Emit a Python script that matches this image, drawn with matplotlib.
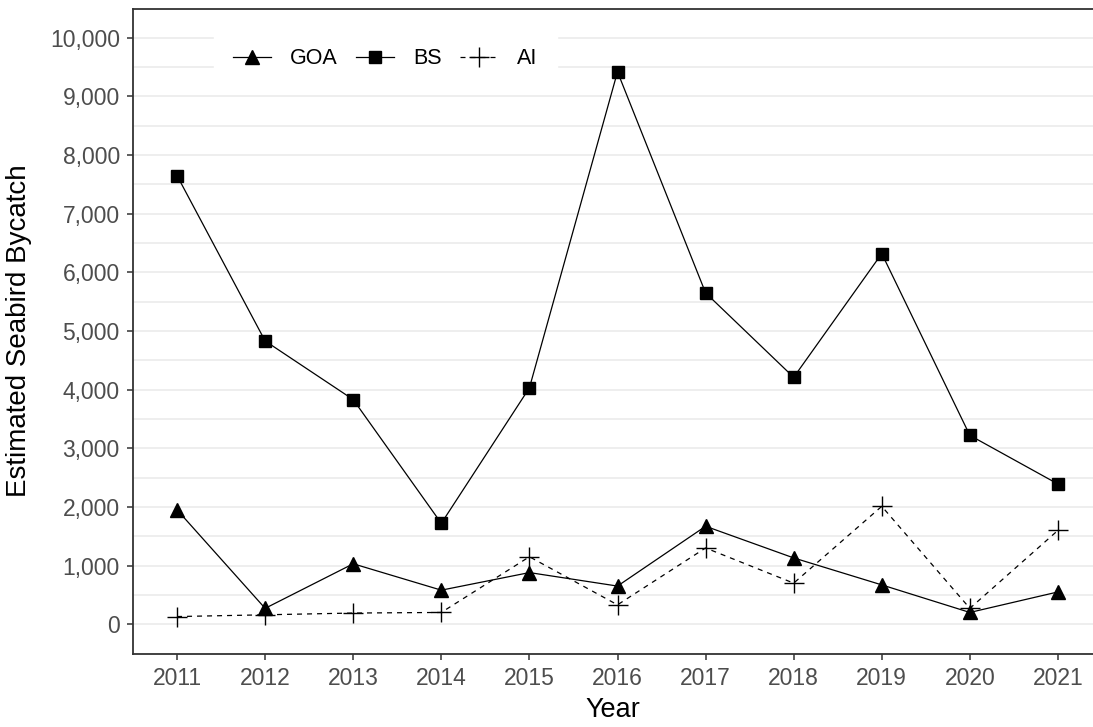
import matplotlib
matplotlib.use("Agg")
import matplotlib.pyplot as plt
from matplotlib.ticker import FuncFormatter, MultipleLocator

plt.rcParams['font.family'] = ['Liberation Sans', 'DejaVu Sans']

years = [2011, 2012, 2013, 2014, 2015, 2016, 2017, 2018, 2019, 2020, 2021]
goa = [1950, 270, 1030, 580, 880, 650, 1670, 1130, 670, 200, 550]
bs = [7650, 4830, 3830, 1720, 4030, 9420, 5650, 4210, 6320, 3220, 2390]
ai = [130, 160, 190, 200, 1150, 330, 1300, 700, 2010, 270, 1600]

W, H = 1093, 727
fig = plt.figure(figsize=(W / 100, H / 100), dpi=100)
# panel runs slightly past the right edge of the figure
left, right, top, bottom = 133, 1102, 8.5, 653.5
ax = fig.add_axes([left / W, 1 - bottom / H, (right - left) / W, (bottom - top) / H])

ax.plot(years, goa, color='black', lw=0.9, marker='^', markersize=9.5,
        label='GOA', zorder=3)
ax.plot(years, bs, color='black', lw=0.9, marker='s', markersize=8.5,
        label='BS', zorder=3)
ax.plot(years, ai, color='black', lw=0.9, ls=(0, (4, 4)), marker='+',
        markersize=15, markeredgewidth=1.0, label='AI', zorder=3)

ax.set_xlim(2010.5, 2021.5)
ax.set_ylim(-500, 10500)
ax.set_xticks(years)
ax.yaxis.set_major_locator(MultipleLocator(1000))
ax.yaxis.set_minor_locator(MultipleLocator(500))
ax.yaxis.set_major_formatter(FuncFormatter(lambda v, p: f"{int(v):,}"))

ax.grid(axis='y', which='both', color='#ebebeb', lw=1.2, zorder=0)
ax.grid(axis='x', visible=False)
ax.set_axisbelow(True)

for s in ['left', 'bottom', 'top', 'right']:
    ax.spines[s].set_color('#333333')
    ax.spines[s].set_linewidth(1.3)

ax.tick_params(axis='both', which='major', length=4.5, width=1.1,
               color='#333333', labelcolor='#4d4d4d', labelsize=16.5)
ax.tick_params(axis='y', which='major', pad=5)
ax.tick_params(axis='x', which='major', pad=5)
ax.tick_params(axis='y', which='minor', length=0)

ax.set_xlabel('Year', fontsize=19.5, color='black')
ax.xaxis.set_label_coords(0.495, -0.068)
ax.set_ylabel('Estimated Seabird Bycatch', fontsize=20, color='black')
ax.yaxis.set_label_coords(-0.104, 0.5)

leg = ax.legend(loc='center left', bbox_to_anchor=(203 / W, 1 - 59 / H),
                bbox_transform=fig.transFigure, ncol=3, frameon=True,
                fontsize=15.5, handlelength=1.75, handletextpad=0.9,
                columnspacing=0.85, borderpad=0.9, fancybox=False)
leg.get_frame().set_facecolor('white')
leg.get_frame().set_edgecolor('white')
leg.get_frame().set_alpha(1)

fig.savefig('out.png', dpi=100)
